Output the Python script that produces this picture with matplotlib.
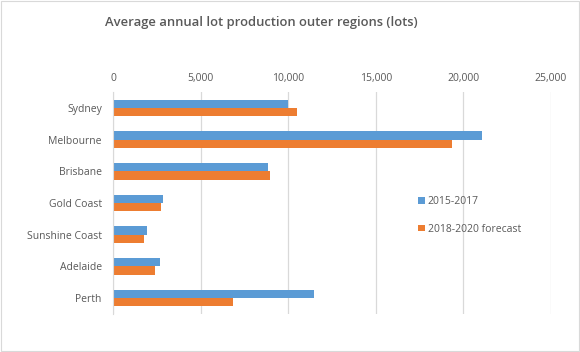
import matplotlib
matplotlib.use("Agg")
import matplotlib.pyplot as plt
import numpy as np
from matplotlib.patches import Rectangle

categories = ["Sydney", "Melbourne", "Brisbane", "Gold Coast", "Sunshine Coast", "Adelaide", "Perth"]
series_2015_2017 = [9970, 21050, 8830, 2870, 1960, 2700, 11450]
series_2018_2020 = [10500, 19330, 8980, 2740, 1790, 2380, 6870]
series_names = ["2015-2017", "2018-2020 forecast"]
xticks = [0, 5000, 10000, 15000, 20000, 25000]
title = "Average annual lot production outer regions (lots)"

plt.rcParams['font.family'] = ['Open Sans', 'DejaVu Sans']
text_color = "#595959"
blue = "#5B9BD5"
orange = "#ED7D31"

fig = plt.figure(figsize=(5.8, 3.52), dpi=100)
ax = fig.add_axes([0.1948, 0.108, 0.7552, 0.6306])

y = np.arange(len(categories))
h = 0.26
ax.barh(y - h / 2, series_2015_2017, height=h, color=blue, label=series_names[0], zorder=3)
ax.barh(y + h / 2, series_2018_2020, height=h, color=orange, label=series_names[1], zorder=3)

ax.set_ylim(len(categories) - 0.5, -0.5)
ax.set_xlim(0, 25000)
ax.set_yticks(y)
ax.set_yticklabels(categories, fontsize=7.5, color=text_color)
ax.set_xticks(xticks)
ax.set_xticklabels([f"{v:,}" for v in xticks], fontsize=7.5, color=text_color)
ax.xaxis.tick_top()
ax.tick_params(axis='both', length=0)
ax.tick_params(axis='x', pad=6)
ax.tick_params(axis='y', pad=8)
ax.grid(axis='x', color="#D9D9D9", linewidth=0.9, zorder=0)
for s in ['top', 'right', 'bottom']:
    ax.spines[s].set_visible(False)
ax.spines['left'].set_color("#D9D9D9")
ax.spines['left'].set_zorder(4)

fig.text(0.45, 0.937, title, ha='center', va='center', fontsize=9.4,
         color=text_color, fontweight='semibold')

leg = fig.legend(loc='upper left', bbox_to_anchor=(0.705, 0.47), frameon=False,
                 fontsize=7.5, handlelength=0.6, handleheight=0.6,
                 labelspacing=1.6, handletextpad=0.3)
for t in leg.get_texts():
    t.set_color(text_color)

fig.patches.append(Rectangle((0.002, 0.003), 0.996, 0.994, transform=fig.transFigure,
                             fill=False, edgecolor="#D9D9D9", linewidth=0.8))

fig.savefig("out.png", dpi=100)
